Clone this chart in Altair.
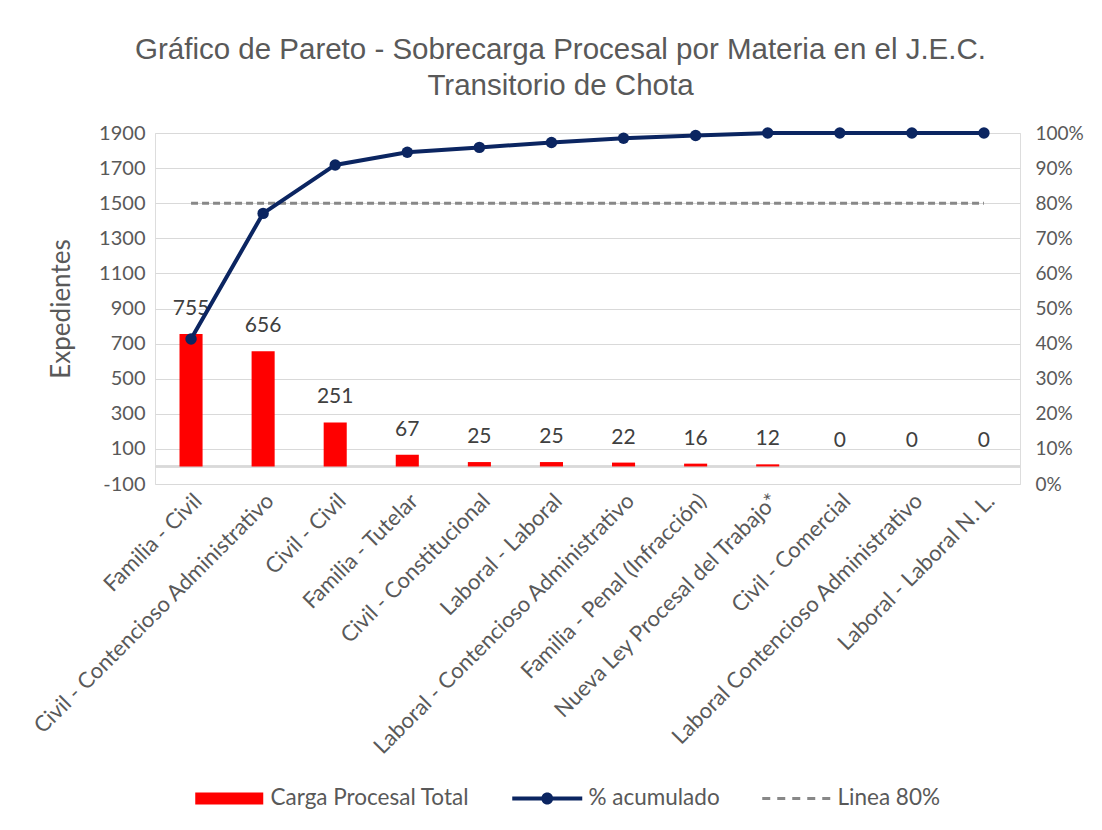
import altair as alt
import pandas as pd

categorias = [
    "Familia - Civil",
    "Civil - Contencioso Administrativo",
    "Civil - Civil",
    "Familia - Tutelar",
    "Civil - Constitucional",
    "Laboral - Laboral",
    "Laboral - Contencioso Administrativo",
    "Familia - Penal (Infracción)",
    "Nueva Ley Procesal del Trabajo*",
    "Civil - Comercial",
    "Laboral Contencioso Administrativo",
    "Laboral - Laboral N. L.",
]
carga = [755, 656, 251, 67, 25, 25, 22, 16, 12, 0, 0, 0]
acumulado = [0.413, 0.771, 0.909, 0.945, 0.959, 0.973, 0.985, 0.993, 1.0, 1.0, 1.0, 1.0]
linea80 = [0.8] * 12
series = ["Carga Procesal Total", "% acumulado", "Linea 80%"]
left_ticks = [-100, 100, 300, 500, 700, 900, 1100, 1300, 1500, 1700, 1900]
right_ticks = [0, 0.1, 0.2, 0.3, 0.4, 0.5, 0.6, 0.7, 0.8, 0.9, 1.0]

df = pd.DataFrame({"cat": categorias, "carga": carga, "acum": acumulado, "l80": linea80})
leg = pd.DataFrame({"serie": series, "pos": [5.0, 5.0, 5.0]})

FONT = "Lato"
GRAY = "#595959"
NAVY = "#0B2561"
RED = "#FF0000"
DASH = "#888888"

x_enc = alt.X(
    "cat:N",
    sort=categorias,
    scale=alt.Scale(paddingInner=0.68, paddingOuter=0.34),
    axis=alt.Axis(
        title=None, labelAngle=-45, labelFont=FONT, labelFontSize=22,
        labelColor=GRAY, ticks=False, domain=False, labelPadding=6,
        labelLimit=500,
    ),
)

left_scale = alt.Scale(domain=[-100, 1900], nice=False, zero=False)
left_axis = alt.Axis(
    title="Expedientes", values=left_ticks, grid=True, gridColor="#D9D9D9",
    ticks=False, domain=False, labelFont=FONT, labelFontSize=20,
    labelColor=GRAY, titleFont=FONT, titleFontSize=26, titleColor=GRAY,
    titleFontWeight="normal", labelPadding=10, titlePadding=24,
    labelOverlap=False, labelExpr="datum.value + ''",
)

right_axis = alt.Axis(
    orient="right", title=None, values=right_ticks, format="%", grid=False,
    ticks=False, domain=False, labelFont=FONT, labelFontSize=19,
    labelColor=GRAY, labelPadding=15, labelOverlap=False,
)
right_scale = alt.Scale(domain=[0, 1], nice=False, zero=False)

base = alt.Chart(df)

bars = base.mark_bar(color=RED).encode(
    x=x_enc, y=alt.Y("carga:Q", scale=left_scale, axis=left_axis), y2=alt.datum(0)
)
labels = base.mark_text(
    font=FONT, fontSize=21, color="#404040", baseline="middle", dy=-25
).encode(
    x=x_enc, y=alt.Y("carga:Q", scale=left_scale, axis=left_axis), text="carga:Q"
)
zero_rule = base.mark_rule(color="#D9D9D9", strokeWidth=1.5).encode(
    y=alt.Y(datum=0, scale=left_scale, axis=left_axis)
)

left_layer = alt.layer(zero_rule, bars, labels)

rule80 = base.mark_line(color=DASH, strokeWidth=3, strokeDash=[7, 4]).encode(
    x=x_enc, y=alt.Y("l80:Q", scale=right_scale, axis=right_axis)
)
line = base.mark_line(color=NAVY, strokeWidth=4).encode(
    x=x_enc, y=alt.Y("acum:Q", scale=right_scale, axis=right_axis)
)
points = base.mark_point(color=NAVY, filled=True, size=130, opacity=1).encode(
    x=x_enc, y=alt.Y("acum:Q", scale=right_scale, axis=right_axis)
)

# legend symbol paths (unit = 10 px with symbolSize 400)
shape_paths = [
    "M-3.4,-0.6H3.4V0.6H-3.4Z",
    "M-3.5,-0.2H3.5V0.2H-3.5Z M0.6,0 A0.6,0.6 0 1,1 -0.6,0 A0.6,0.6 0 1,1 0.6,0Z",
    "M-3.4,-0.15H-2.6V0.15H-3.4Z M-1.9,-0.15H-1.1V0.15H-1.9Z M-0.4,-0.15H0.4V0.15H-0.4Z M1.1,-0.15H1.9V0.15H1.1Z M2.6,-0.15H3.4V0.15H2.6Z",
]

legend_props = dict(
    title=None, orient="none", legendX=63, legendY=654, direction="horizontal",
    symbolSize=400, symbolStrokeWidth=0, symbolOpacity=1, labelFont=FONT,
    labelFontSize=22.5, labelColor=GRAY, columnPadding=42, labelOffset=30,
    labelLimit=500, padding=0,
)

# legend-only layer: points placed outside the clipped y domain
legend_layer = alt.Chart(leg).mark_point(filled=True, clip=True, size=400, opacity=1).encode(
    y=alt.Y("pos:Q", scale=right_scale, axis=right_axis),
    color=alt.Color(
        "serie:N", sort=series,
        scale=alt.Scale(domain=series, range=[RED, NAVY, DASH]),
        legend=alt.Legend(**legend_props),
    ),
    shape=alt.Shape(
        "serie:N", sort=series,
        scale=alt.Scale(domain=series, range=shape_paths),
        legend=alt.Legend(**legend_props),
    ),
)

right_layer = alt.layer(rule80, line, points, legend_layer)

chart = (
    alt.layer(left_layer, right_layer)
    .resolve_scale(y="independent")
    .properties(
        width=865,
        height=351,
        title=alt.TitleParams(
            ["Gráfico de Pareto - Sobrecarga Procesal por Materia en el J.E.C.",
             "Transitorio de Chota"],
            font="Liberation Sans", fontSize=29.5, color=GRAY,
            fontWeight="normal", lineHeight=36, offset=22, anchor="middle", dx=-27,
        ),
    )
    .configure_view(stroke=None)
    .configure(background="white", padding={"left": 21, "top": 26, "right": 4, "bottom": 4})
)

chart.save("out.html", embed_options={"renderer": "svg", "actions": False})
